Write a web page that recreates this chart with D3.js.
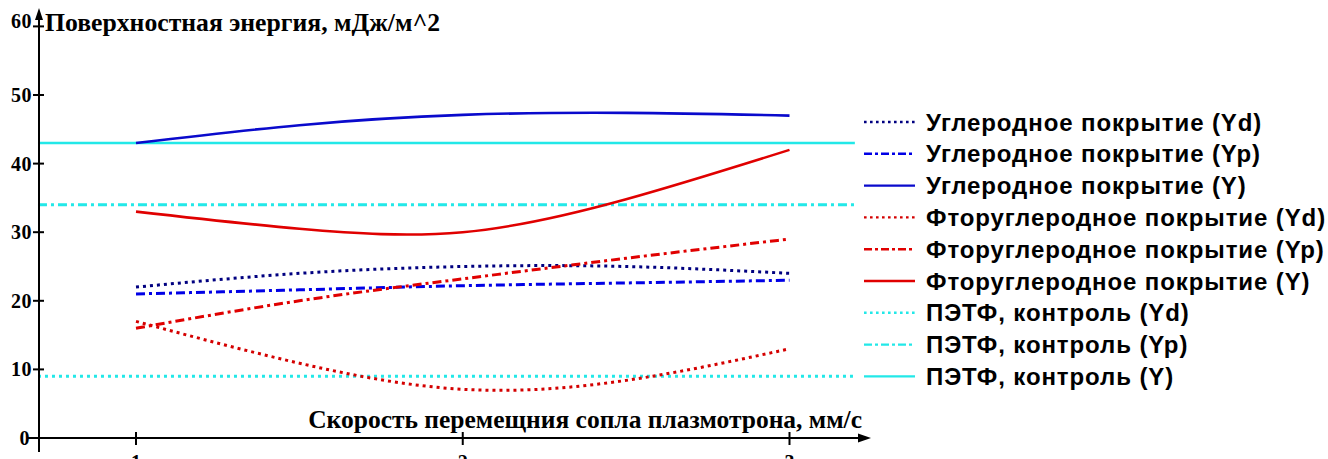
<!DOCTYPE html>
<html><head><meta charset="utf-8">
<script src="https://cdn.jsdelivr.net/npm/d3@7"></script>
<style>html,body{margin:0;padding:0;background:#fff;}svg{display:block;}</style>
</head><body>
<svg id="c" width="1328" height="459"></svg>
<script>
// ---- data ----
const xs = [1, 1.5, 2, 2.5, 3];
const carbonYd = [22, 24, 25, 25, 24];
const carbonYp = [21, 21.6, 22.2, 22.6, 23];
const carbonY  = [43, 45.6, 47.1, 47.4, 47];
const fluoroYd = [17, 10.9, 7.1, 8.4, 13];
const fluoroYp = [16, 20, 23.2, 26.2, 29];
const fluoroY  = [33, 30.5, 30.0, 34.8, 42];
const petX  = [0.7, 3.2];
const petYd = [9, 9];
const petYp = [34, 34];
const petY  = [43, 43];
const yTicks = [0, 10, 20, 30, 40, 50, 60];
const xTicks = [1, 2, 3];
const legendLabels = [
  "Углеродное покрытие (Yd)",
  "Углеродное покрытие (Yp)",
  "Углеродное покрытие (Y)",
  "Фторуглеродное покрытие (Yd)",
  "Фторуглеродное покрытие (Yp)",
  "Фторуглеродное покрытие (Y)",
  "ПЭТФ, контроль (Yd)",
  "ПЭТФ, контроль (Yp)",
  "ПЭТФ, контроль (Y)"
];
const yTitle = "Поверхностная энергия, мДж/м^2";
const xTitle = "Скорость перемещния сопла плазмотрона, мм/с";

// ---- styles ----
const NAVY = "#000080", BLUE = "#0000e6", BLUE2 = "#0a0acc", RED = "#e00000", RED2 = "#d40000", CYAN = "#22e8e8";
const DOT = "3,4", DASHDOT = "9,4,3,4";
const series = [
  {x: xs, y: carbonYd, color: NAVY, dash: DOT, curve: true},
  {x: xs, y: carbonYp, color: BLUE, dash: DASHDOT, curve: true},
  {x: xs, y: carbonY,  color: BLUE2, dash: null, curve: true},
  {x: xs, y: fluoroYd, color: RED2, dash: DOT, curve: true},
  {x: xs, y: fluoroYp, color: RED, dash: DASHDOT, curve: true},
  {x: xs, y: fluoroY,  color: RED, dash: null, curve: true},
  {x: petX, y: petYd, color: CYAN, dash: DOT, curve: false},
  {x: petX, y: petYp, color: CYAN, dash: DASHDOT, curve: false},
  {x: petX, y: petY,  color: CYAN, dash: null, curve: false}
];

const svg = d3.select("#c");
const x = d3.scaleLinear().domain([1, 3]).range([136, 789.5]);
const y = d3.scaleLinear().domain([0, 50]).range([438, 95]);
const axX = 39;
const SERIF = "Liberation Serif, Times New Roman, serif";

// plot lines
const drawOrder = [8, 7, 6, 0, 1, 2, 3, 4, 5];
drawOrder.forEach(i => {
  const s = series[i];
  const pts = s.x.map((v, k) => [v, s.y[k]]);
  const line = d3.line().x(d => x(d[0])).y(d => y(d[1]))
    .curve(s.curve ? d3.curveNatural : d3.curveLinear);
  svg.append("path").attr("d", line(pts))
    .attr("fill", "none").attr("stroke", s.color)
    .attr("stroke-width", s.dash ? 3 : 2.6)
    .attr("stroke-dasharray", s.dash);
});

// axes
const g = svg.append("g").attr("stroke", "#000").attr("stroke-width", 2);
g.append("line").attr("x1", axX).attr("x2", axX).attr("y1", 14).attr("y2", 452);
g.append("line").attr("x1", 28).attr("x2", 862).attr("y1", y(0)).attr("y2", y(0));
svg.append("path").attr("d", `M${axX},8 L${axX-4},20 L${axX+4},20 Z`).attr("fill", "#000");
svg.append("path").attr("d", `M871,${y(0)} L858,${y(0)-4.5} L858,${y(0)+4.5} Z`).attr("fill", "#000");

yTicks.forEach(t => {
  g.append("line").attr("x1", axX - 6).attr("x2", axX + 5).attr("y1", y(t)).attr("y2", y(t));
  svg.append("text").attr("x", t === 0 ? 30 : 32).attr("y", t === 60 ? 21 : y(t)).attr("dy", "0.35em")
    .attr("text-anchor", "end")
    .attr("font-family", SERIF).attr("letter-spacing", 0.5)
    .attr("font-weight", "bold").attr("font-size", 20).text(t);
});
xTicks.forEach(t => {
  g.append("line").attr("x1", x(t)).attr("x2", x(t)).attr("y1", y(0) - 6).attr("y2", y(0) + 7);
  svg.append("text").attr("x", x(t)).attr("y", 469)
    .attr("text-anchor", "middle")
    .attr("font-family", SERIF)
    .attr("font-weight", "bold").attr("font-size", 20).text(t);
});

// titles
svg.append("text").attr("x", 45).attr("y", 31)
  .attr("font-family", SERIF)
  .attr("font-weight", "bold").attr("font-size", 25.7).text(yTitle);
svg.append("text").attr("x", 862).attr("y", 428).attr("text-anchor", "end")
  .attr("font-family", SERIF)
  .attr("font-weight", "bold").attr("font-size", 25.5).text(xTitle);

// legend
const legDash = {[DOT]: "2.6,3.4", [DASHDOT]: "8,3,3,3"};
legendLabels.forEach((lab, i) => {
  const s = series[i];
  const cy = 122 + i * 31.8;
  svg.append("line").attr("x1", 864).attr("x2", 915).attr("y1", cy).attr("y2", cy)
    .attr("stroke", s.color).attr("stroke-width", 2.4)
    .attr("stroke-dasharray", s.dash ? legDash[s.dash] : null);
  svg.append("text").attr("x", 926).attr("y", cy).attr("dy", "0.36em")
    .attr("font-family", "Liberation Sans, Arial, sans-serif")
    .attr("letter-spacing", 0.9)
    .attr("font-weight", "bold").attr("font-size", 24).text(lab);
});
</script>
</body></html>
